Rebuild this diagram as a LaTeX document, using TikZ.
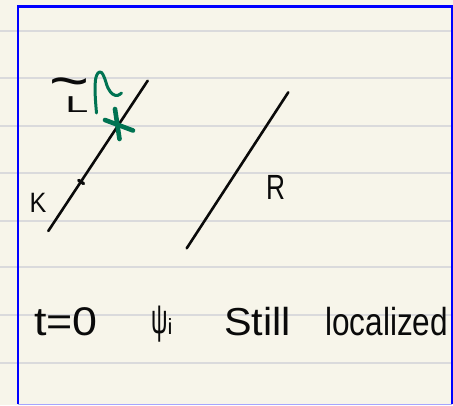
\documentclass[tikz,border=0pt]{standalone}
\usepackage{fontspec}
\setmainfont{Liberation Sans}
\definecolor{paper}{RGB}{247,245,234}
\definecolor{rule}{RGB}{218,218,220}
\definecolor{frameblue}{RGB}{0,0,255}
\definecolor{ink}{RGB}{10,10,10}
\definecolor{pen}{RGB}{0,115,82}
\begin{document}
\begin{tikzpicture}[x=1pt,y=-1pt,
  ruleline/.style={rule,line width=1.8pt},
  inkline/.style={ink,line width=2.6pt,line cap=round},
  penline/.style={pen,line width=3pt,line cap=round,line join=round},
  hand/.style={inner sep=0pt,text=ink}]
\fill[paper] (0,0) rectangle (453,405);
\useasboundingbox (0,0) rectangle (453,405);
\foreach \y in {31,78.3,126,173,220.7,267.3,315,362.7}
  \draw[ruleline] (0,\y) -- (453,\y);
% diagonal lines
\coordinate (k1) at (48.3,231);
\coordinate (k2) at (147.7,80.7);
\coordinate (r1) at (186.7,248.3);
\coordinate (r2) at (288.3,92.3);
\draw[inkline] (k1) -- (k2);
\draw[inkline] (r1) -- (r2);
\coordinate (t1) at (78.6,180.3);
\coordinate (t2) at (83.6,183.6);
\draw[inkline,line width=3.2pt] (t1) -- (t2);
% green wave packet and cross
\draw[penline] plot[smooth,tension=0.6] coordinates {(96.5,113) (95.2,95) (95.5,80) (98,73) (101.5,72.5) (104.5,78) (108,88) (112.5,94) (117.5,95.5) (121.5,93)};
\coordinate (x1) at (105,120);
\coordinate (x2) at (133,130.5);
\coordinate (x3) at (115,109);
\coordinate (x4) at (119.5,139);
\draw[penline,line width=4.6pt] (x1) -- (x2);
\draw[penline,line width=4.6pt] (x3) -- (x4);
% labels
\node[hand,font=\fontsize{28}{28}\selectfont] (K) at (38,203) {\scalebox{0.9}[1]{K}};
\node[hand,font=\fontsize{23}{23}\selectfont] (L) at (77,95.5)
  {\rlap{\hspace{-15.5pt}\raisebox{12pt}{\fontsize{36}{36}\selectfont\scalebox{1.9}[1.6]{\char"007E}}}\scalebox{1.8}[1]{L}};
\node[hand,font=\fontsize{35}{35}\selectfont] (R) at (275.5,187.5) {\scalebox{0.75}[1]{R}};
% bottom text
\node[hand,anchor=base west,font=\fontsize{40}{40}\selectfont] (t0) at (34,335) {\scalebox{1.12}[1]{t=0}};
\node[hand,anchor=base west,font=\fontsize{42}{42}\selectfont] (psi) at (151,333) {\scalebox{0.55}[1]{ψ}\raisebox{-1pt}{\fontsize{22}{22}\selectfont i}};
\node[hand,anchor=base west,font=\fontsize{39}{39}\selectfont] (still) at (224,335) {\scalebox{1.06}[1]{Still}};
\node[hand,anchor=base west,font=\fontsize{39}{39}\selectfont] (loc) at (325,335) {\scalebox{0.81}[1]{localized}};
% frame
\draw[frameblue,line width=2.4pt] (18,404) -- (18,6.5) -- (452,6.5) -- (452,404);
\draw[frameblue!35,line width=1.2pt] (18,404.5) -- (452,404.5);
\end{tikzpicture}
\end{document}
